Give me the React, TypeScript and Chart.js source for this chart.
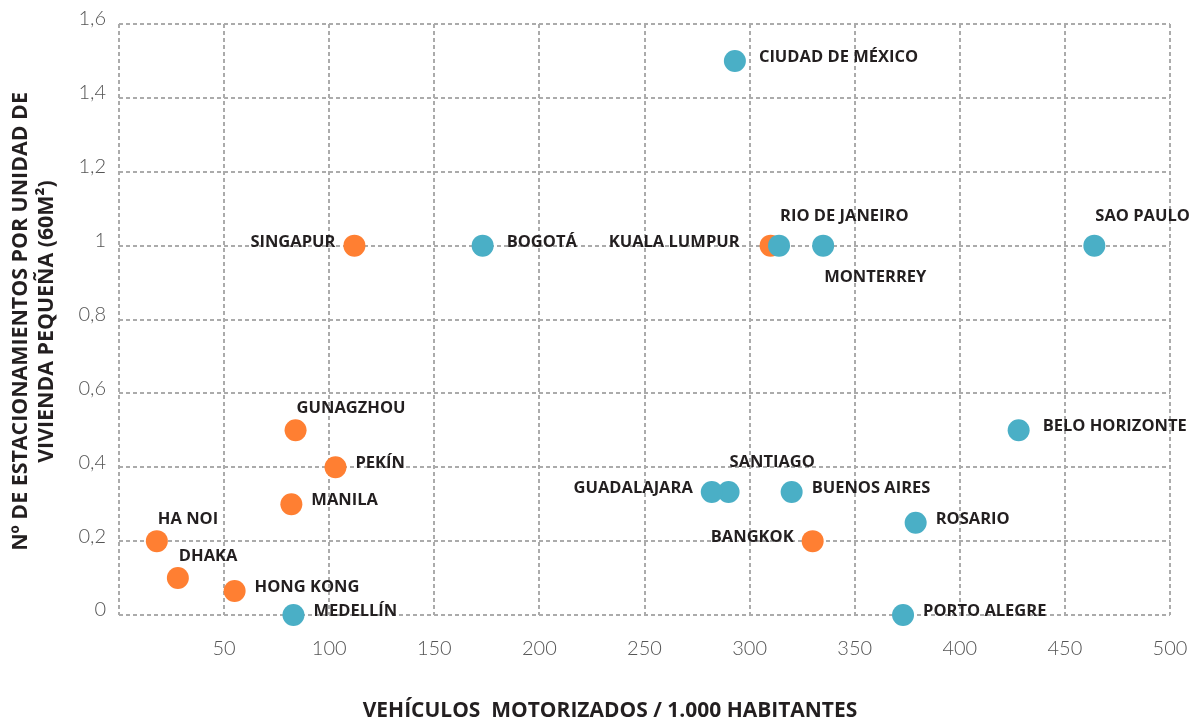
import { useEffect, useRef } from "react";
import { Chart, registerables } from "chart.js";

Chart.register(...registerables);

// ---- Data ----
const asiaCities = ["SINGAPUR", "GUNAGZHOU", "PEKÍN", "MANILA", "HA NOI", "DHAKA", "HONG KONG", "KUALA LUMPUR", "BANGKOK"];
const asiaVehicles = [112, 84, 103, 82, 18, 28, 55, 310, 330];
const asiaParking = [1, 0.5, 0.4, 0.3, 0.2, 0.1, 0.065, 1, 0.2];
const asiaLabelSide = ["left", "above", "right", "right", "above", "above", "right", "leftFar", "left"];

const latamCities = ["CIUDAD DE MÉXICO", "BOGOTÁ", "RIO DE JANEIRO", "MONTERREY", "SAO PAULO", "BELO HORIZONTE", "SANTIAGO", "GUADALAJARA", "BUENOS AIRES", "ROSARIO", "PORTO ALEGRE", "MEDELLÍN"];
const latamVehicles = [293, 173, 314, 335, 464, 428, 290, 282, 320, 379, 373, 83];
const latamParking = [1.5, 1, 1, 1, 1, 0.5, 0.333, 0.333, 0.333, 0.25, 0, 0];
const latamLabelSide = ["rightFar", "rightFar", "aboveFar", "below", "aboveFar", "rightFar", "aboveFar", "left", "right", "right", "right", "right"];

const xTitle = "VEHÍCULOS  MOTORIZADOS / 1.000 HABITANTES";
const yTitle = ["Nº DE ESTACIONAMIENTOS POR UNIDAD DE", "VIVIENDA PEQUEÑA (60M²)"];

const ORANGE = "#FF7F32";
const BLUE = "#4AAFC6";
const TEXT = "#231F20";
const LABEL_FONT = "700 16.5px 'Open Sans'";
const TITLE_FAMILY = "'Open Sans'";

const OFFSETS: Record<string, { dx: number; dy: number; align: CanvasTextAlign }> = {
  right: { dx: 20, dy: -5, align: "left" },
  rightFar: { dx: 24, dy: -5, align: "left" },
  left: { dx: -19, dy: -5, align: "right" },
  leftFar: { dx: -31, dy: -5, align: "right" },
  above: { dx: 1, dy: -23, align: "left" },
  aboveFar: { dx: 1, dy: -31, align: "left" },
  below: { dx: 1, dy: 30, align: "left" },
};

function fitFont(ctx: CanvasRenderingContext2D, text: string, target: number) {
  ctx.font = `700 20px ${TITLE_FAMILY}`;
  const w = ctx.measureText(text).width;
  return (20 * target) / w;
}

const labelPlugin = {
  id: "cityLabels",
  afterDatasetsDraw(chart: any) {
    const ctx: CanvasRenderingContext2D = chart.ctx;
    ctx.save();
    ctx.font = LABEL_FONT;
    ctx.fillStyle = TEXT;
    ctx.textBaseline = "alphabetic";
    chart.data.datasets.forEach((ds: any, di: number) => {
      const meta = chart.getDatasetMeta(di);
      meta.data.forEach((pt: any, i: number) => {
        const o = OFFSETS[ds.labelSides[i]];
        ctx.textAlign = o.align;
        ctx.fillText(ds.labels[i], pt.x + o.dx, pt.y + o.dy + 5.9);
      });
    });
    ctx.restore();
  },
  afterDraw(chart: any) {
    const ctx: CanvasRenderingContext2D = chart.ctx;
    const area = chart.chartArea;
    ctx.save();
    ctx.fillStyle = TEXT;
    ctx.textAlign = "center";
    ctx.textBaseline = "middle";
    // x title
    const xs = fitFont(ctx, xTitle, 495);
    ctx.font = `700 ${xs}px ${TITLE_FAMILY}`;
    ctx.fillText(xTitle, 610, 711);
    // y title
    const cy = (area.top + area.bottom) / 2 + 2;
    const s1 = fitFont(ctx, yTitle[0], 459);
    const s2 = fitFont(ctx, yTitle[1], 290);
    const ys = Math.min(s1, s2);
    ctx.font = `700 ${ys}px ${TITLE_FAMILY}`;
    ctx.translate(0, cy);
    ctx.rotate(-Math.PI / 2);
    ctx.fillText(yTitle[0], 0, 21);
    ctx.fillText(yTitle[1], 0, 47);
    ctx.restore();
  },
};

export default function App() {
  const ref = useRef<HTMLCanvasElement>(null);

  useEffect(() => {
    document.body.style.margin = "0";
    const canvas = ref.current!;
    const gridColor = "#ABABAB";
    const chart = new Chart(canvas, {
      type: "scatter",
      data: {
        datasets: [
          {
            label: "Latinoamérica",
            data: latamVehicles.map((x, i) => ({ x, y: latamParking[i] })),
            backgroundColor: BLUE,
            borderWidth: 0,
            pointRadius: 11,
            pointHoverRadius: 11,
            clip: false,
            labels: latamCities,
            labelSides: latamLabelSide,
          } as any,
          {
            label: "Asia",
            data: asiaVehicles.map((x, i) => ({ x, y: asiaParking[i] })),
            backgroundColor: ORANGE,
            borderWidth: 0,
            pointRadius: 11,
            pointHoverRadius: 11,
            clip: false,
            labels: asiaCities,
            labelSides: asiaLabelSide,
          } as any,
        ],
      },
      options: {
        animation: false,
        responsive: false,
        devicePixelRatio: 1,
        layout: { padding: { top: 24, right: 23, left: 0, bottom: 0 } },
        plugins: {
          legend: { display: false },
          tooltip: { enabled: false },
        },
        scales: {
          x: {
            type: "linear",
            min: 0,
            max: 500,
            afterFit: (s: any) => {
              s.height = 108;
              s.paddingLeft = 0;
              s.paddingRight = 0;
            },
            ticks: {
              stepSize: 50,
              padding: 22,
              color: "#555555",
              font: { family: "Lato", size: 20, weight: "300" as any },
              callback: (v: any) => (Number(v) === 0 ? "" : String(v)),
            },
            grid: { color: gridColor, lineWidth: 2, drawTicks: false },
            border: { display: false, dash: [4, 3] },
          },
          y: {
            type: "linear",
            min: 0,
            max: 1.6,
            afterFit: (s: any) => {
              s.width = 119;
              s.paddingTop = 0;
              s.paddingBottom = 0;
            },
            ticks: {
              stepSize: 0.2,
              padding: 13,
              labelOffset: -5,
              color: "#555555",
              font: { family: "Lato", size: 20, weight: "300" as any },
              callback: (v: any) => String(Math.round(Number(v) * 10) / 10).replace(".", ","),
            },
            grid: { color: gridColor, lineWidth: 2, drawTicks: false },
            border: { display: false, dash: [4, 3] },
          },
        },
      },
      plugins: [labelPlugin],
    });
    return () => chart.destroy();
  }, []);

  return (
    <div style={{ width: 1193, height: 723 }}>
      <canvas ref={ref} width={1193} height={723} />
    </div>
  );
}
